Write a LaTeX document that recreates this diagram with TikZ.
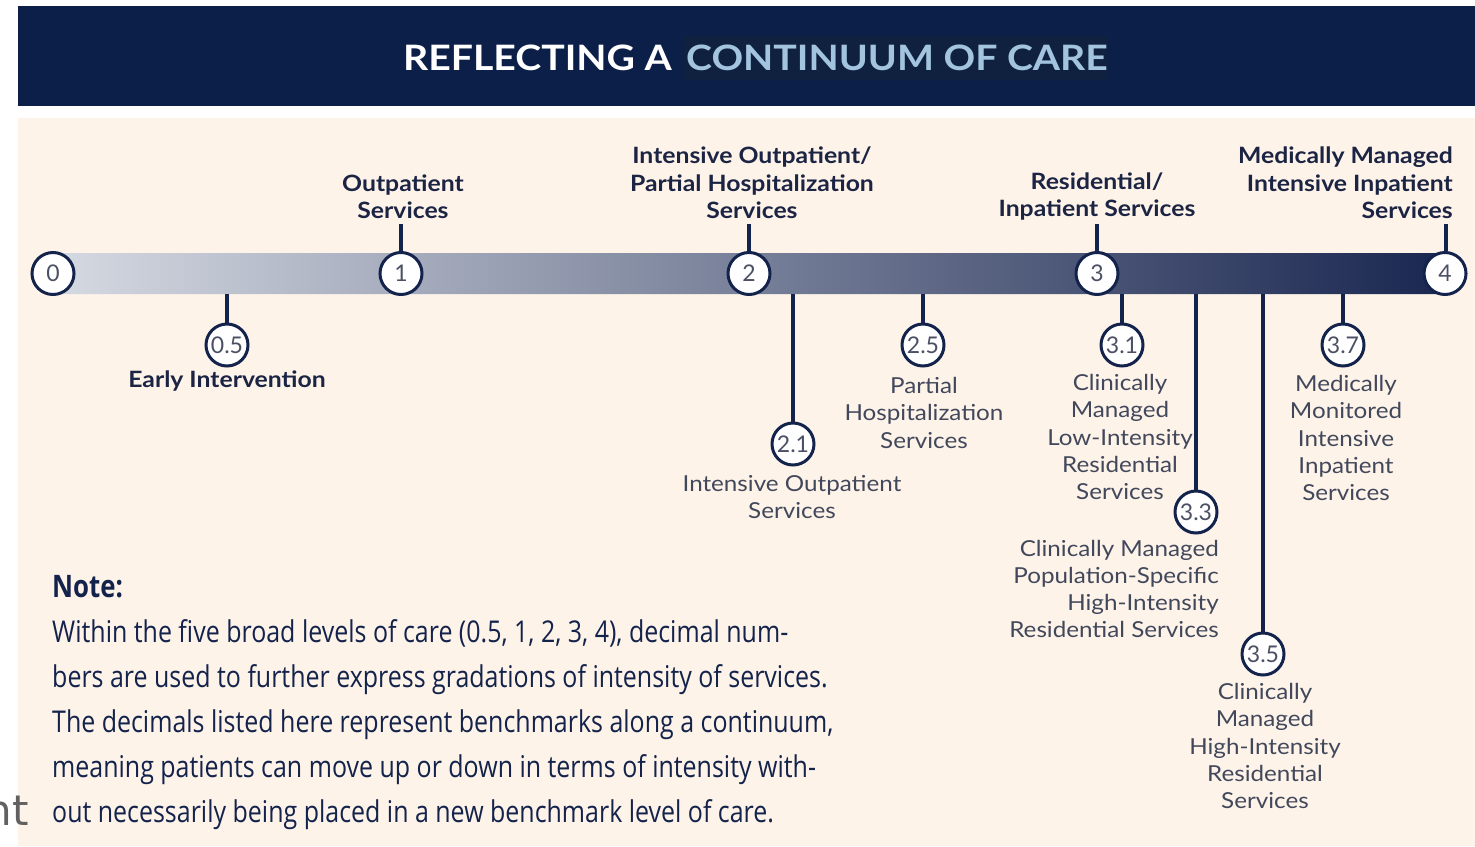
\documentclass[tikz,border=0pt]{standalone}
\usepackage{fontspec}
\setmainfont{Lato}
\newfontfamily\lblfont[FakeStretch=1.1]{Lato}
\newfontfamily\titlefont[FakeStretch=1.12]{Lato}
\newfontfamily\notefont[FakeStretch=0.832]{Open Sans}
\newfontfamily\stubfont{DejaVu Sans}
\definecolor{hdrnavy}{HTML}{0B1F49}
\definecolor{hilite}{HTML}{10213F}
\definecolor{ltblue}{HTML}{A3C4DE}
\definecolor{cream}{HTML}{FDF3E9}
\definecolor{navy}{HTML}{14234B}
\definecolor{lbl}{HTML}{1C2444}
\definecolor{lbl2}{HTML}{42485B}
\definecolor{numc}{HTML}{4B5064}
\definecolor{barL}{HTML}{D8DCE4}
\definecolor{barM}{HTML}{77809A}
\definecolor{barR}{HTML}{17244E}
\tikzset{
  lvl/.style={circle, draw=navy, line width=3pt, fill=white, minimum size=42pt, inner sep=0pt,
    text=numc, font=\fontsize{23}{23}\selectfont},
  stem/.style={draw=navy, line width=3.5pt},
  toplbl/.style={align=center, text=lbl, inner sep=0pt, font=\lblfont\bfseries\fontsize{22.5}{27.5}\selectfont},
  lowlbl/.style={align=center, text=lbl2, inner sep=0pt, font=\lblfont\fontsize{22}{27.3}\selectfont},
}
\begin{document}
\begin{tikzpicture}[x=1pt,y=-1pt]
\useasboundingbox (0,0) rectangle (1475,846);
\fill[white] (0,0) rectangle (1475,846);
% header
\fill[hdrnavy] (18,6) rectangle (1475,106);
\fill[hilite] (684,36) rectangle (1108,80);
\node[anchor=base west, inner sep=0pt, text=ltblue, font=\titlefont\bfseries\fontsize{35}{35}\selectfont] (t2) at (686,70) {CONTINUUM OF CARE};
\node[anchor=base east, inner sep=0pt, text=white, font=\titlefont\bfseries\fontsize{35}{35}\selectfont] (t1) at (672,70) {REFLECTING A};
% panel
\fill[cream] (18,118) rectangle (1475,846);
% bar
\node[rectangle, rounded corners=20.5pt, minimum width=1434pt, minimum height=41pt, inner sep=0pt,
  shading=axis, left color=barL, middle color=barM, right color=barR, anchor=west] (bar) at (32,273.5) {};
% main level circles
\node[lvl] (c0) at (53,273.5) {0};
\node[lvl] (c1) at (401,273.5) {1};
\node[lvl] (c2) at (749,273.5) {2};
\node[lvl] (c3) at (1097,273.5) {3};
\node[lvl] (c4) at (1445,273.5) {4};
% upper labels
\node[toplbl] (l1) at (403,196.5) {Outpatient\\Services};
\node[toplbl] (l2) at (752,183) {Intensive Outpatient/\\Partial Hospitalization\\Services};
\node[toplbl] (l3) at (1097,196.5) {Residential/\\Inpatient Services};
\node[toplbl, align=right, anchor=east] (l4) at (1453,183) {Medically Managed\\Intensive Inpatient\\Services};
\coordinate (s1) at (401,224);
\coordinate (s2) at (749,224);
\coordinate (s3) at (1097,224);
\coordinate (s4) at (1446,224);
\draw[stem] (c1.north) -- (s1);
\draw[stem] (c2.north) -- (s2);
\draw[stem] (c3.north) -- (s3);
\draw[stem] (c4.north -| s4) -- (s4);
% sub levels
\node[lvl] (c05) at (227,345) {0.5};
\node[lvl] (c21) at (793,444) {2.1};
\node[lvl] (c25) at (923,345) {2.5};
\node[lvl] (c31) at (1122,345) {3.1};
\node[lvl] (c33) at (1196,512) {3.3};
\node[lvl] (c35) at (1263,654) {3.5};
\node[lvl] (c37) at (1343,345) {3.7};
\draw[stem] (c05.north) -- (c05.north |- bar.south);
\draw[stem] (c21.north) -- (c21.north |- bar.south);
\draw[stem] (c25.north) -- (c25.north |- bar.south);
\draw[stem] (c31.north) -- (c31.north |- bar.south);
\draw[stem] (c33.north) -- (c33.north |- bar.south);
\draw[stem] (c35.north) -- (c35.north |- bar.south);
\draw[stem] (c37.north) -- (c37.north |- bar.south);
% lower labels
\node[toplbl] (e05) at (227,381) {Early Intervention};
\node[lowlbl] (e21) at (792,497) {Intensive Outpatient\\Services};
\node[lowlbl] (e25) at (924,412.7) {Partial\\Hospitalization\\Services};
\node[lowlbl] (e31) at (1120,437) {Clinically\\Managed\\Low-Intensity\\Residential\\Services};
\node[lowlbl, align=right, anchor=east] (e33) at (1219,589) {Clinically Managed\\Population-Specific\\High-Intensity\\Residential Services};
\node[lowlbl] (e35) at (1265,746) {Clinically\\Managed\\High-Intensity\\Residential\\Services};
\node[lowlbl] (e37) at (1346,438) {Medically\\Monitored\\Intensive\\Inpatient\\Services};
% note
\node[anchor=base west, inner sep=0pt, text=navy, font=\notefont\bfseries\fontsize{31}{31}\selectfont] (note) at (52,597) {Note:};
\node[anchor=north west, inner sep=0pt, align=left, text=navy, font=\notefont\fontsize{30}{45.2}\selectfont] (body) at (52,619)
 {Within the five broad levels of care (0.5, 1, 2, 3, 4), decimal num-\\
  bers are used to further express gradations of intensity of services.\\
  The decimals listed here represent benchmarks along a continuum,\\
  meaning patients can move up or down in terms of intensity with-\\
  out necessarily being placed in a new benchmark level of care.};
\node[anchor=base east, inner sep=0pt, text=black!62, font=\stubfont\fontsize{42}{42}\selectfont] (stub) at (29,825) {nt};
\end{tikzpicture}
\end{document}
